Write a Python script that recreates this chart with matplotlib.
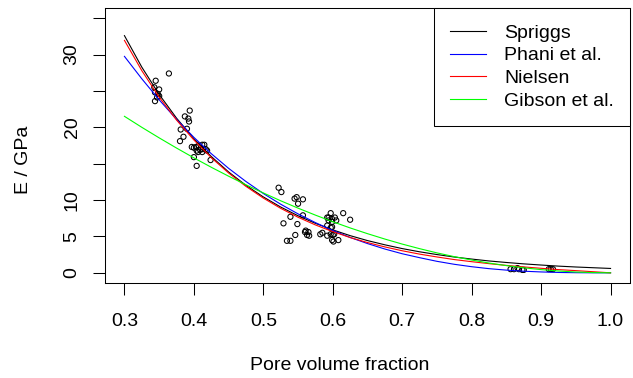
import matplotlib
matplotlib.use("Agg")
from matplotlib import pyplot as plt
from matplotlib.lines import Line2D

# measured samples (pore volume fraction, Young's modulus in GPa)
porosity = [
    0.345, 0.364, 0.343, 0.350, 0.344, 0.348, 0.350, 0.344, 0.347,
    0.387, 0.394, 0.392, 0.393, 0.381, 0.390, 0.385, 0.380, 0.400, 0.403,
    0.407, 0.412, 0.415, 0.404, 0.409, 0.413, 0.417, 0.406, 0.412, 0.419,
    0.400, 0.424, 0.404, 0.397,
    0.545, 0.548, 0.550, 0.557, 0.557, 0.539, 0.529, 0.549, 0.561, 0.565,
    0.560, 0.563, 0.566, 0.546, 0.534, 0.539, 0.522, 0.526,
    0.597, 0.592, 0.594, 0.599, 0.603, 0.605, 0.594, 0.599, 0.615, 0.625,
    0.592, 0.597, 0.599, 0.582, 0.585, 0.592, 0.597, 0.600, 0.602, 0.599,
    0.601, 0.608,
    0.856, 0.861, 0.866, 0.868, 0.873, 0.875, 0.911, 0.914, 0.917,
]
modulus = [
    26.4, 27.4, 25.5, 25.2, 24.8, 24.6, 24.3, 23.6, 24.1,
    21.5, 22.3, 21.2, 20.8, 19.7, 19.8, 18.7, 18.1, 17.2, 17.3,
    17.5, 17.6, 17.6, 16.8, 16.9, 17.0, 17.0, 16.6, 16.6, 16.8,
    15.9, 15.5, 14.7, 17.3,
    10.2, 10.4, 9.5, 10.1, 7.9, 7.7, 6.8, 6.7, 5.8, 5.6,
    5.6, 5.2, 5.1, 5.2, 4.4, 4.4, 11.7, 11.1,
    8.2, 7.6, 7.6, 7.4, 7.6, 7.2, 7.2, 7.0, 8.2, 7.3,
    6.5, 6.2, 6.3, 5.3, 5.5, 5.1, 5.3, 5.2, 5.3, 4.5,
    4.3, 4.5,
    0.5, 0.5, 0.65, 0.5, 0.4, 0.4, 0.5, 0.5, 0.5,
]

# model curves, read at fixed porosity steps
fit_porosity = [
    0.300, 0.325, 0.350, 0.375, 0.400, 0.425, 0.450, 0.475, 0.500, 0.525,
    0.550, 0.575, 0.600, 0.625, 0.650, 0.675, 0.700, 0.725, 0.750, 0.775,
    0.800, 0.825, 0.850, 0.875, 0.900, 0.925, 0.950, 0.975, 1.000,
]
spriggs = [
    32.60, 28.27, 24.52, 21.26, 18.44, 15.99, 13.86, 12.02, 10.43, 9.04,
    7.84, 6.80, 5.90, 5.11, 4.43, 3.85, 3.33, 2.89, 2.51, 2.17,
    1.89, 1.63, 1.42, 1.23, 1.07, 0.92, 0.80, 0.70, 0.60,
]
phani = [
    29.75, 26.67, 23.78, 21.09, 18.62, 16.38, 14.36, 12.55, 10.90, 9.43,
    8.10, 6.90, 5.82, 4.86, 4.02, 3.27, 2.62, 2.08, 1.58, 1.17,
    0.84, 0.57, 0.37, 0.22, 0.12, 0.05, 0.016, 0.002, 0.0,
]
nielsen = [
    31.95, 27.79, 24.15, 21.00, 18.26, 15.83, 13.72, 11.88, 10.27, 8.86,
    7.64, 6.58, 5.66, 4.85, 4.16, 3.56, 3.03, 2.57, 2.18, 1.82,
    1.53, 1.26, 1.02, 0.81, 0.62, 0.44, 0.30, 0.15, 0.0,
]
gibson = [
    21.51, 20.00, 18.55, 17.15, 15.80, 14.51, 13.28, 12.10, 10.98, 9.90,
    8.89, 7.93, 7.02, 6.17, 5.38, 4.64, 3.95, 3.32, 2.74, 2.22,
    1.76, 1.34, 0.99, 0.69, 0.44, 0.25, 0.11, 0.03, 0.0,
]

model_names = ["Spriggs", "Phani et al.", "Nielsen", "Gibson et al."]
model_colors = ["black", "#0000ff", "#ff0000", "#00ff00"]
x_ticks = [0.3, 0.4, 0.5, 0.6, 0.7, 0.8, 0.9, 1.0]
y_ticks = [0, 5, 10, 15, 20, 25, 30, 35]
y_tick_labels = ["0", "5", "10", "", "20", "", "30", ""]

W, H = 633, 378
FS = 14
plt.rcParams["font.family"] = ["Liberation Sans", "DejaVu Sans"]
plt.rcParams["font.size"] = FS

fig = plt.figure(figsize=(W / 100, H / 100), dpi=100)
ax = fig.add_axes([105 / W, (H - 283) / H, (630 - 105) / W, (283 - 8) / H])

ax.scatter(porosity, modulus, s=14, facecolors="none", edgecolors="black",
           linewidths=0.75, zorder=2)
for curve, color in zip([spriggs, phani, nielsen, gibson], model_colors):
    ax.plot(fit_porosity, curve, color=color, lw=0.8, zorder=3)

ax.set_xlim(0.272, 1.028)
ax.set_ylim(-1.4, 36.4)
ax.set_xticks(x_ticks)
ax.set_xticklabels([f"{t:.1f}" for t in x_ticks])
ax.set_yticks(y_ticks)
ax.set_yticklabels(y_tick_labels, rotation=90, va="center")
ax.tick_params(axis="both", length=8.6, width=0.75, direction="out")
ax.tick_params(axis="x", pad=13)
ax.tick_params(axis="y", pad=9)
for spine in ax.spines.values():
    spine.set_linewidth(0.75)

fig.text(340 / W, 1 - 366 / H, "Pore volume fraction", ha="center", va="center")
fig.text(24 / W, 1 - 160 / H, "E / GPa", ha="center", va="center", rotation=90)

handles = [Line2D([], [], color=c, lw=0.8) for c in model_colors]
leg = ax.legend(handles, model_names, loc="upper right", borderaxespad=0,
                fancybox=False, framealpha=1, edgecolor="black",
                handlelength=1.85, handletextpad=0.93, borderpad=0.82,
                labelspacing=0.27)
leg.get_frame().set_linewidth(0.75)

fig.savefig("out.png", dpi=100)
